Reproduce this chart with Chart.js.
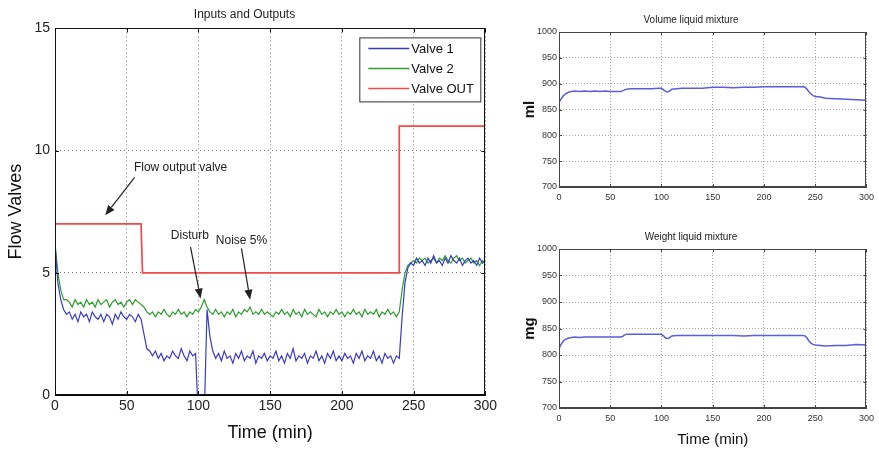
<!DOCTYPE html>
<html><head><meta charset="utf-8">
<script src="https://cdn.jsdelivr.net/npm/chart.js@4.4.1/dist/chart.umd.min.js"></script>
<style>
html,body{margin:0;padding:0;background:#fff;}
#wrap{position:relative;width:879px;height:450px;overflow:hidden;background:#fff;}
canvas{position:absolute;}
</style></head><body>
<div id="wrap">
<canvas id="c1" width="500" height="450" style="left:0;top:0"></canvas>
<canvas id="c2" width="369" height="225" style="left:510px;top:0"></canvas>
<canvas id="c3" width="369" height="225" style="left:510px;top:225px"></canvas>
</div>
<script>
// ---- data ----
const timeMin = [0,2,4,6,8,10,12,14,16,18,20,22,24,26,28,30,32,34,36,38,40,42,44,46,48,50,52,54,56,58,
 60,62,64,66,68,70,72,74,76,78,80,82,84,86,88,90,92,94,96,98,100,102,104,106,108,110,112,114,116,118,
 120,122,124,126,128,130,132,134,136,138,140,142,144,146,148,150,152,154,156,158,160,162,164,166,168,170,172,174,176,178,
 180,182,184,186,188,190,192,194,196,198,200,202,204,206,208,210,212,214,216,218,220,222,224,226,228,230,232,234,236,238,
 240,242,244,246,248,250,252,254,256,258,260,262,264,266,268,270,272,274,276,278,280,282,284,286,288,290,292,294,296,298,300];
const valve1 = [
 6.2,4.6,3.9,3.5,3.3,3.4,3.1,3.3,3.0,3.4,
 3.2,3.3,3.0,3.4,3.2,3.1,3.3,3.0,3.3,3.2,
 2.9,3.3,3.1,3.4,3.2,3.1,3.3,3.2,3.0,3.3,
 3.1,2.5,1.9,1.8,1.6,1.8,1.5,1.7,1.4,1.6,
 1.5,1.8,1.6,1.5,1.9,1.6,1.4,1.8,1.6,1.7,
 -1,-1,-1,3.5,2.4,1.8,1.5,1.7,1.4,1.8,
 1.5,1.6,1.3,1.7,1.5,1.8,1.4,1.6,1.5,1.8,
 1.3,1.6,1.5,1.7,1.4,1.6,1.5,1.8,1.4,1.6,
 1.3,1.7,1.5,1.9,1.4,1.6,1.5,1.7,1.3,1.6,
 1.5,1.8,1.4,1.6,1.3,1.7,1.5,1.8,1.4,1.6,
 1.4,1.7,1.5,1.6,1.3,1.7,1.5,1.8,1.4,1.6,
 1.5,1.8,1.4,1.6,1.3,1.7,1.5,1.6,1.3,1.6,
 1.5,3.2,4.6,5.2,5.4,5.3,5.6,5.4,5.5,5.3,
 5.6,5.4,5.7,5.4,5.5,5.3,5.6,5.4,5.7,5.5,
 5.4,5.6,5.3,5.5,5.6,5.4,5.5,5.3,5.6,5.4,
 5.5];
const valve2 = [
 6.2,5.0,4.3,3.9,3.9,3.8,3.6,3.9,3.7,3.8,
 3.6,3.9,3.7,3.8,3.6,3.9,3.7,3.8,3.9,3.6,
 3.8,3.9,3.7,3.8,3.6,3.8,3.9,3.7,3.9,3.8,
 3.7,3.6,3.4,3.3,3.4,3.2,3.4,3.3,3.5,3.3,
 3.2,3.4,3.3,3.5,3.3,3.4,3.2,3.4,3.3,3.5,
 3.4,3.6,3.9,3.6,3.4,3.3,3.5,3.3,3.4,3.2,
 3.4,3.3,3.5,3.2,3.4,3.3,3.5,3.4,3.6,3.3,
 3.4,3.3,3.5,3.3,3.4,3.3,3.2,3.4,3.3,3.5,
 3.3,3.4,3.2,3.5,3.3,3.4,3.2,3.5,3.3,3.4,
 3.3,3.2,3.5,3.3,3.4,3.2,3.4,3.3,3.5,3.3,
 3.4,3.2,3.4,3.3,3.5,3.3,3.4,3.2,3.5,3.3,
 3.4,3.3,3.5,3.2,3.4,3.3,3.5,3.3,3.4,3.2,
 3.4,4.3,5.0,5.3,5.4,5.5,5.4,5.6,5.5,5.6,
 5.4,5.5,5.6,5.4,5.6,5.5,5.7,5.5,5.4,5.6,
 5.7,5.5,5.6,5.4,5.5,5.6,5.4,5.5,5.3,5.5,
 5.4];
const outTimes = [0,60,61,240,240,300];
const valveOut = [7,7,5,5,11,11];

const mixTimes = [0,2,4,6,8,10,15,20,25,30,35,40,45,50,55,60,62,64,66,70,80,90,98,100,102,104,106,108,110,
 115,120,130,140,145,150,160,170,180,190,200,210,220,230,238,240,242,244,246,248,250,255,260,270,280,290,300];
const volumeMl = [864,870,876,880,882,884,886,885,886,885,886,885,886,885,885,885,886,888,889,890,890,890,891,891,888,885,884,886,889,
 890,891,891,891,892,893,893,892,893,893,894,894,894,894,894,893,889,884,880,877,875,874,872,871,870,869,868];
const weightMg = [812,820,826,829,831,832,834,833,834,834,834,834,834,834,834,834,835,838,839,839,839,839,839,839,836,832,831,833,836,
 837,837,837,837,837,837,837,837,836,837,837,837,837,837,837,836,832,826,822,820,819,818,817,818,818,820,819];

const seriesNames = ['Valve 1','Valve 2','Valve OUT'];
const notes = [
 {text:'Flow output valve', tx:55, ty:9.3, align:'left', from:[55.5,8.9], to:[35,7.35]},
 {text:'Disturb', tx:94, ty:6.5, align:'center', from:[94.5,6.05], to:[101.5,3.95]},
 {text:'Noise 5%', tx:130, ty:6.3, align:'center', from:[130,6.0], to:[136,3.9]}
];

// ---- helpers ----
const F = "'Liberation Sans', Arial, Helvetica, sans-serif";
const FN = "'Liberation Sans Narrow', 'Liberation Sans', Arial, sans-serif";
const pts = (xs, ys) => xs.map((x,i)=>({x:x, y:ys[i]}));
const plain = v => String(v);

const framePlugin = {
  id:'frame',
  afterDatasetsDraw(chart, args, opts){
    const {ctx, chartArea:a, scales:{x,y}} = chart;
    ctx.save();
    ctx.setLineDash([]);
    ctx.strokeStyle = opts.color || '#000';
    ctx.lineWidth = 1;
    const L = opts.tick || 4;
    ctx.beginPath();
    x.ticks.forEach(t=>{
      const px = Math.round(x.getPixelForValue(t.value))+0.5;
      ctx.moveTo(px,a.bottom); ctx.lineTo(px,a.bottom-L);
      ctx.moveTo(px,a.top); ctx.lineTo(px,a.top+L);
    });
    y.ticks.forEach(t=>{
      const py = Math.round(y.getPixelForValue(t.value))+0.5;
      ctx.moveTo(a.left,py); ctx.lineTo(a.left+L,py);
      ctx.moveTo(a.right,py); ctx.lineTo(a.right-L,py);
    });
    ctx.stroke();
    ctx.strokeRect(Math.round(a.left)+0.5, Math.round(a.top)+0.5, Math.round(a.right-a.left)-1, Math.round(a.bottom-a.top)-1);
    ctx.restore();
  }
};

const boxLegendPlugin = {
  id:'boxLegend',
  afterDatasetsDraw(chart, args, opts){
    if(!opts.show) return;
    const {ctx, chartArea:a} = chart;
    const w = 121, h = 64;
    const x0 = a.right - 5 - w, y0 = a.top + 9;
    ctx.save();
    ctx.fillStyle = '#fff';
    ctx.fillRect(x0,y0,w,h);
    ctx.strokeStyle = '#333'; ctx.lineWidth = 1; ctx.setLineDash([]);
    ctx.strokeRect(x0+0.5,y0+0.5,w,h);
    ctx.font = "13px " + F;
    ctx.textBaseline = 'middle';
    chart.data.datasets.forEach((ds,i)=>{
      const yy = y0 + 11 + i*20;
      ctx.strokeStyle = ds.borderColor; ctx.lineWidth = 1.5;
      ctx.beginPath(); ctx.moveTo(x0+9,yy); ctx.lineTo(x0+50,yy); ctx.stroke();
      ctx.fillStyle = '#111';
      ctx.fillText(ds.label, x0+52, yy+1);
    });
    ctx.restore();
  }
};

const notesPlugin = {
  id:'notes',
  afterDatasetsDraw(chart, args, opts){
    if(!opts.items) return;
    const {ctx, scales:{x,y}} = chart;
    ctx.save();
    ctx.font = "12px " + F;
    ctx.fillStyle = '#222';
    ctx.strokeStyle = '#222';
    ctx.textBaseline = 'middle';
    opts.items.forEach(n=>{
      ctx.textAlign = n.align;
      ctx.fillText(n.text, x.getPixelForValue(n.tx), y.getPixelForValue(n.ty));
      const x1 = x.getPixelForValue(n.from[0]), y1 = y.getPixelForValue(n.from[1]);
      const x2 = x.getPixelForValue(n.to[0]), y2 = y.getPixelForValue(n.to[1]);
      const ang = Math.atan2(y2-y1, x2-x1);
      const hl = 10, hw = 4;
      const bx = x2 - hl*Math.cos(ang), by = y2 - hl*Math.sin(ang);
      ctx.lineWidth = 1.2;
      ctx.beginPath(); ctx.moveTo(x1,y1); ctx.lineTo(bx,by); ctx.stroke();
      ctx.beginPath();
      ctx.moveTo(x2,y2);
      ctx.lineTo(bx + hw*Math.sin(ang), by - hw*Math.cos(ang));
      ctx.lineTo(bx - hw*Math.sin(ang), by + hw*Math.cos(ang));
      ctx.closePath(); ctx.fill();
    });
    ctx.restore();
  }
};

// ---- main chart ----
new Chart(document.getElementById('c1'), {
  type:'line',
  data:{datasets:[
    {label:seriesNames[0], data:pts(timeMin, valve1), borderColor:'#3a3ac4', borderWidth:1.2, pointRadius:0, tension:0},
    {label:seriesNames[1], data:pts(timeMin, valve2), borderColor:'#2e9e2e', borderWidth:1.2, pointRadius:0, tension:0},
    {label:seriesNames[2], data:pts(outTimes, valveOut), borderColor:'#f24a4a', borderWidth:1.7, pointRadius:0, tension:0}
  ]},
  options:{
    responsive:false, animation:false, devicePixelRatio:1,
    layout:{padding:{left:0,right:11,top:0,bottom:0}},
    plugins:{
      legend:{display:false}, tooltip:{enabled:false},
      title:{display:true, text:'Inputs and Outputs', font:{family:F, size:12, weight:'normal'}, color:'#222', padding:{top:7,bottom:7}},
      frame:{color:'#111', tick:4},
      boxLegend:{show:true},
      notes:{items:notes}
    },
    scales:{
      x:{type:'linear', min:0, max:300,
        ticks:{stepSize:50, font:{family:F,size:14}, color:'#222', padding:3, maxRotation:0, callback:plain},
        grid:{color:'rgba(0,0,0,0.55)', drawTicks:false, lineWidth:1},
        border:{display:true, color:'#000', dash:[1,3]},
        title:{display:true, text:'Time (min)', font:{family:F,size:18}, color:'#111', padding:{top:0,bottom:6}},
        afterFit(s){ s.height = 55; }
      },
      y:{type:'linear', min:0, max:15,
        ticks:{stepSize:5, font:{family:F,size:14}, color:'#222', padding:5, callback:plain},
        grid:{color:'rgba(0,0,0,0.55)', drawTicks:false, lineWidth:1},
        border:{display:true, color:'#000', dash:[1,3]},
        title:{display:true, text:'Flow Valves', font:{family:F,size:18}, color:'#111', padding:{top:5,bottom:0}},
        afterFit(s){ s.width = 55; }
      }
    }
  },
  plugins:[framePlugin, boxLegendPlugin, notesPlugin]
});

// ---- small charts ----
function small(id, title, yTitle, values, xTitle, titlePad, xHeight, xTitlePad){
  return new Chart(document.getElementById(id), {
    type:'line',
    data:{datasets:[{label:title, data:pts(mixTimes, values), borderColor:'#5c5cdc', borderWidth:1.5, pointRadius:0, tension:0}]},
    options:{
      responsive:false, animation:false, devicePixelRatio:1,
      layout:{padding:{left:0,right:7,top:0,bottom:0}},
      plugins:{
        legend:{display:false}, tooltip:{enabled:false},
        title:{display:true, text:title, font:{family:F,size:10,weight:'normal'}, color:'#222', padding:titlePad},
        frame:{color:'#444', tick:3}
      },
      scales:{
        x:{type:'linear', min:0, max:300,
          ticks:{stepSize:50, font:{family:FN,size:9}, color:'#333', padding:5, maxRotation:0, callback:plain},
          grid:{color:'rgba(0,0,0,0.35)', drawTicks:false},
          border:{display:true, color:'#444', dash:[1,2]},
          title:{display:!!xTitle, text:xTitle||'', font:{family:F,size:15}, color:'#111', padding:{top:0,bottom:xTitlePad}},
          afterFit(s){ s.height = xHeight; }
        },
        y:{type:'linear', min:700, max:1000,
          ticks:{stepSize:50, font:{family:FN,size:9}, color:'#333', padding:2, callback:plain},
          grid:{color:'rgba(0,0,0,0.35)', drawTicks:false},
          border:{display:true, color:'#444', dash:[1,2]},
          title:{display:true, text:yTitle, font:{family:F,size:15,weight:'bold'}, color:'#111', padding:{top:11,bottom:0}},
          afterFit(s){ s.width = 49; }
        }
      }
    },
    plugins:[framePlugin]
  });
}
small('c2', 'Volume liquid mixture', 'ml', volumeMl, null, {top:14,bottom:6}, 38, 0);
small('c3', 'Weight liquid mixture', 'mg', weightMg, 'Time (min)', {top:6,bottom:6}, 42, 1);
</script>
</body></html>
